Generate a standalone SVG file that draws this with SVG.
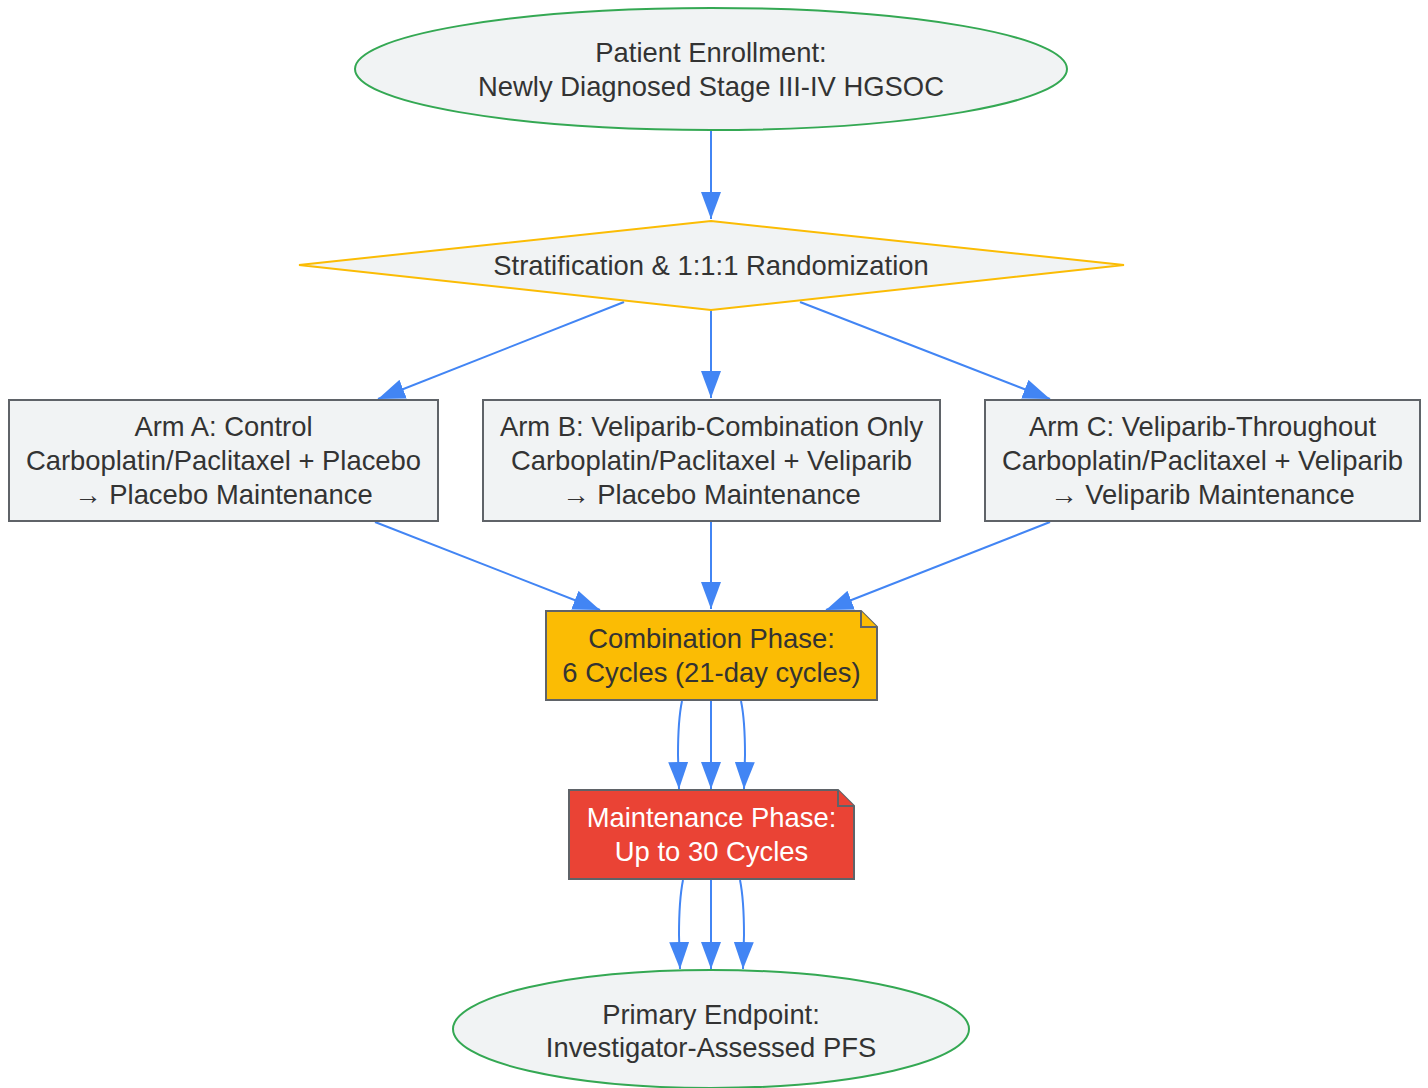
<svg xmlns="http://www.w3.org/2000/svg" width="1428" height="1088" viewBox="0 0 1428 1088">
<style>
text{font-family:"Liberation Sans",Arial,sans-serif;font-size:27.4px;fill:#333333;text-anchor:middle}
.term{fill:#f1f3f4;stroke:#34a853;stroke-width:2}
.box{fill:#f1f3f4;stroke:#5f6368;stroke-width:2}
.dec{fill:#f1f3f4;stroke:#fbbc04;stroke-width:2}
.comb{fill:#fbbc04;stroke:#5f6368;stroke-width:2}
.maint{fill:#ea4335;stroke:#5f6368;stroke-width:2}
text.w{fill:#ffffff}
.edge{fill:none;stroke:#4285f4;stroke-width:2;marker-end:url(#ah)}
</style>
<defs>
<marker id="ah" viewBox="0 0 27 20" refX="27" refY="10" markerUnits="userSpaceOnUse" markerWidth="27" markerHeight="20" orient="auto">
<path d="M0,0 L27,10 L0,20 z" fill="#4285f4"/>
</marker>
</defs>
<rect width="1428" height="1088" fill="#ffffff"/>
<g id="connectors">
<path class="edge" d="M711,131 V219"/>
<path class="edge" d="M624,302 L378,399"/>
<path class="edge" d="M711,310 V398"/>
<path class="edge" d="M800,302 L1050,399"/>
<path class="edge" d="M375,522 L600,610"/>
<path class="edge" d="M711,522 V609"/>
<path class="edge" d="M1050,522 L826,610"/>
<path class="edge" d="M682,701 C678,720 678,740 678,755 L679,789"/>
<path class="edge" d="M711,701 V789"/>
<path class="edge" d="M741,701 C745,720 745,740 745,755 L744,789"/>
<path class="edge" d="M683,880 C679,900 679,920 679,935 L680,969"/>
<path class="edge" d="M711,880 V969"/>
<path class="edge" d="M740,880 C744,900 744,920 744,935 L743,969"/>
</g>
<g id="enroll">
<ellipse class="term" cx="711" cy="69" rx="356" ry="61"/>
<text x="711" y="62">Patient Enrollment:</text>
<text x="711" y="96">Newly Diagnosed Stage III-IV HGSOC</text>
</g>
<g id="rand">
<polygon class="dec" points="711,221 1124,265 711,310 299,265"/>
<text x="711" y="275">Stratification &amp; 1:1:1 Randomization</text>
</g>
<g id="armA">
<rect class="box" x="9" y="400" width="429" height="121"/>
<text x="223.5" y="436">Arm A: Control</text>
<text x="223.5" y="470">Carboplatin/Paclitaxel + Placebo</text>
<text x="223.5" y="504">→ Placebo Maintenance</text>
</g>
<g id="armB">
<rect class="box" x="483" y="400" width="457" height="121"/>
<text x="711.5" y="436">Arm B: Veliparib-Combination Only</text>
<text x="711.5" y="470">Carboplatin/Paclitaxel + Veliparib</text>
<text x="711.5" y="504">→ Placebo Maintenance</text>
</g>
<g id="armC">
<rect class="box" x="985" y="400" width="435" height="121"/>
<text x="1202.5" y="436">Arm C: Veliparib-Throughout</text>
<text x="1202.5" y="470">Carboplatin/Paclitaxel + Veliparib</text>
<text x="1202.5" y="504">→ Veliparib Maintenance</text>
</g>
<g id="comb">
<path class="comb" d="M546,611 H861 L877,627 V700 H546 Z"/>
<path class="comb" d="M861,611 V627 H877"/>
<text x="711.5" y="648">Combination Phase:</text>
<text x="711.5" y="682">6 Cycles (21-day cycles)</text>
</g>
<g id="maint">
<path class="maint" d="M569,790 H838 L854,806 V879 H569 Z"/>
<path class="maint" d="M838,790 V806 H854"/>
<text class="w" x="711.5" y="827">Maintenance Phase:</text>
<text class="w" x="711.5" y="861">Up to 30 Cycles</text>
</g>
<g id="endpoint">
<ellipse class="term" cx="711" cy="1029" rx="258" ry="59"/>
<text x="711" y="1024">Primary Endpoint:</text>
<text x="711" y="1057">Investigator-Assessed PFS</text>
</g>
</svg>
